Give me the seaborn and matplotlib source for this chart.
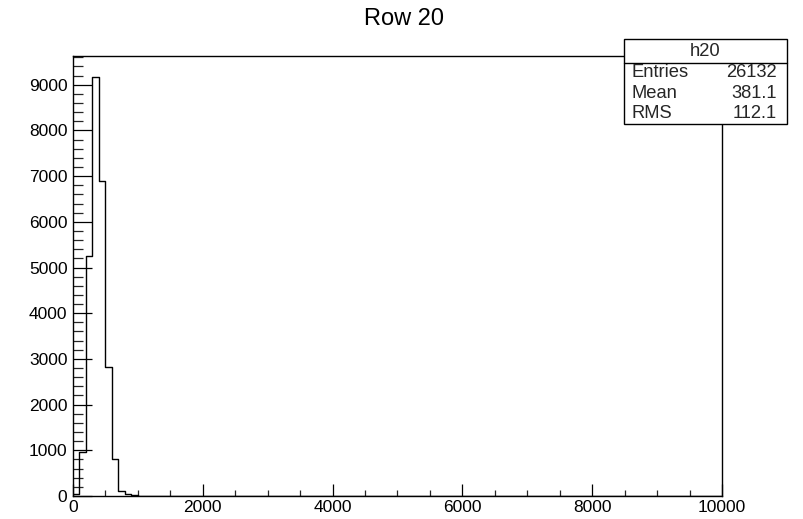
import numpy as np
import pandas as pd
import matplotlib
matplotlib.use("Agg")
import matplotlib.pyplot as plt
from matplotlib.patches import Rectangle
from matplotlib.lines import Line2D
from matplotlib.ticker import MultipleLocator
import seaborn as sns

# Histogram "h20": bins of width 100 from 0 to 10000, counts per bin
bin_width = 100
x_range = (0, 10000)
bin_centers = [50, 150, 250, 350, 450, 550, 650, 750, 850, 950]
bin_counts = [45, 970, 5250, 9170, 6900, 2830, 800, 110, 37, 20]

title = "Row 20"
hist_name = "h20"
stat_labels = ["Entries", "Mean", "RMS"]
stat_values = ["26132", "381.1", "112.1"]

df = pd.DataFrame({"adc": bin_centers, "counts": bin_counts})

sns.set_theme(style="white")
plt.rcParams["font.family"] = ["Liberation Sans", "DejaVu Sans"]

W, H = 804, 519
fig = plt.figure(figsize=(W / 100, H / 100), dpi=100)
ax = fig.add_axes([73 / W, 1 - 496 / H, (722 - 73) / W, (496 - 56) / H])

sns.histplot(data=df, x="adc", weights="counts", binwidth=bin_width,
             binrange=x_range, element="step", fill=False, color="black",
             linewidth=1.0, ax=ax)

ax.set_xlim(*x_range)
ax.set_ylim(0, max(bin_counts) * 1.05)
ax.set_xlabel("")
ax.set_ylabel("")

for s in ax.spines.values():
    s.set_visible(True)
    s.set_color("black")
    s.set_linewidth(1.0)

ax.xaxis.set_major_locator(MultipleLocator(2000))
ax.xaxis.set_minor_locator(MultipleLocator(500))
ax.yaxis.set_major_locator(MultipleLocator(1000))
ax.yaxis.set_minor_locator(MultipleLocator(200))
ax.tick_params(axis="x", which="major", direction="in", length=9, width=0.9,
               labelsize=12.5, pad=3, colors="black", bottom=True, top=False)
ax.tick_params(axis="x", which="minor", direction="in", length=4.5, width=0.9,
               bottom=True, top=False)
ax.tick_params(axis="y", which="major", direction="in", length=13.5, width=0.9,
               labelsize=12.5, pad=4, colors="black", left=True, right=False)
ax.tick_params(axis="y", which="minor", direction="in", length=7, width=0.9,
               left=True, right=False)

fig.text(404 / W, 1 - 19 / H, title, ha="center", va="center",
         fontsize=17, color="black")

# Statistics box in the top-right corner
bx0, bx1, by0, by1, bsep = 624, 787, 39, 124, 63
fig.patches.append(Rectangle((bx0 / W, 1 - by1 / H), (bx1 - bx0) / W, (by1 - by0) / H,
                             transform=fig.transFigure, facecolor="white",
                             edgecolor="black", linewidth=1.0, zorder=5))
fig.lines.append(Line2D([bx0 / W, bx1 / W], [1 - bsep / H, 1 - bsep / H],
                        transform=fig.transFigure, color="black", linewidth=1.0,
                        zorder=6))
fig.text((bx0 + bx1) / 2 / W, 1 - 51 / H, hist_name, ha="center", va="center",
         fontsize=13.2, zorder=7)
row_y = [72.5, 93, 113.5]
for lab, val, yy in zip(stat_labels, stat_values, row_y):
    fig.text(632 / W, 1 - yy / H, lab, ha="left", va="center", fontsize=13.2, zorder=7)
    fig.text(777 / W, 1 - yy / H, val, ha="right", va="center", fontsize=13.2, zorder=7)

fig.savefig("out.png", dpi=100, facecolor="white")
